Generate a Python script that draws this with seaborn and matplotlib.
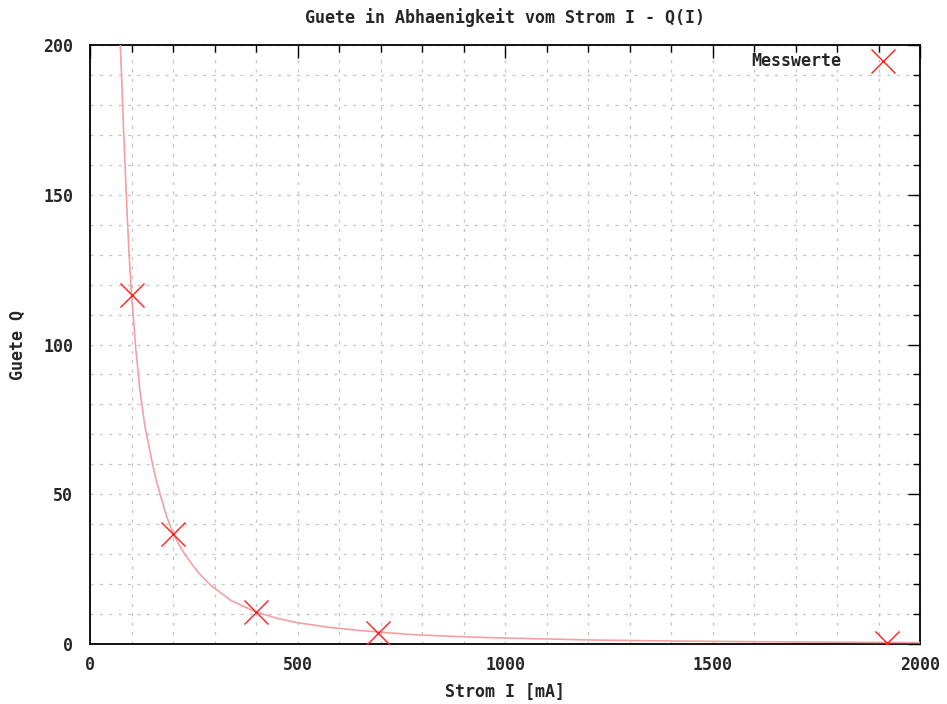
import matplotlib
matplotlib.use("Agg")
import matplotlib.pyplot as plt
import seaborn as sns
import pandas as pd
from matplotlib.ticker import MultipleLocator

# measured points
strom_mA = [100, 200, 400, 695, 1920]
guete_Q = [116.4, 36.7, 10.7, 3.8, 0.3]

# points
curve_I = [73, 76, 80, 85, 90, 95, 100, 110, 120, 132, 145, 157, 170, 185, 200, 215, 230,
           260, 290, 340, 400, 450, 500, 575, 650, 780, 900, 1000, 1220, 1400, 1580, 1800, 2000]
curve_Q = [200, 190, 175, 158, 142, 128, 117, 99, 85, 73, 64, 56, 49.5, 42.5, 37, 33, 29.6,
           24, 19.7, 14.5, 10.7, 8.6, 7.1, 5.6, 4.5, 3.1, 2.4, 2.0, 1.3, 1.0, 0.8, 0.6, 0.45]

sns.set_style("white")
plt.rcParams['font.family'] = ['DejaVu Sans Mono', 'DejaVu Sans']
plt.rcParams['font.weight'] = 'bold'

fig = plt.figure(figsize=(9.47, 7.04), dpi=100)
ax = fig.add_axes([90/947, 1-644/704, 830/947, 599/704])

df_c = pd.DataFrame({"I": curve_I, "Q": curve_Q})
df_p = pd.DataFrame({"I": strom_mA, "Q": guete_Q})

sns.lineplot(data=df_c, x="I", y="Q", ax=ax, color="#f4a0a0", linewidth=1.2,
             sort=False, estimator=None, legend=False, zorder=3)
sns.scatterplot(data=df_p, x="I", y="Q", ax=ax, marker="x", s=300, color="#ff2020",
                linewidth=1.0, label="Messwerte", zorder=4)

ax.set_xlim(0, 2000)
ax.set_ylim(0, 200)
ax.xaxis.set_major_locator(MultipleLocator(500))
ax.xaxis.set_minor_locator(MultipleLocator(100))
ax.yaxis.set_major_locator(MultipleLocator(50))
ax.yaxis.set_minor_locator(MultipleLocator(10))
ax.grid(True, which="both", color="#c4c4c4", linestyle=(0, (2.5, 5)), linewidth=0.9)
ax.tick_params(which="both", direction="in", top=True, right=True, color="black", width=1.0)
ax.tick_params(which="major", length=9, labelsize=12)
ax.tick_params(axis="x", which="major", pad=9)
ax.tick_params(axis="y", which="major", pad=12)
ax.tick_params(which="minor", length=5)
for s in ax.spines.values():
    s.set_color("black")
    s.set_linewidth(1.3)
for lbl in ax.get_xticklabels() + ax.get_yticklabels():
    lbl.set_fontweight("bold")

ax.set_xlabel("Strom I [mA]", fontsize=12, fontweight="bold", labelpad=6)
ax.set_ylabel("Guete Q", fontsize=12, fontweight="bold")
ax.yaxis.set_label_coords(-0.076, 0.5)
ax.set_title("Guete in Abhaenigkeit vom Strom I - Q(I)", fontsize=12, fontweight="bold", pad=16)

leg = ax.legend(loc="upper right", frameon=False, markerfirst=False, fontsize=12,
                handletextpad=1.5, borderaxespad=0.3, bbox_to_anchor=(0.99, 1.008))
for t in leg.get_texts():
    t.set_fontweight("bold")

fig.savefig("out.png", dpi=100, facecolor="white")
